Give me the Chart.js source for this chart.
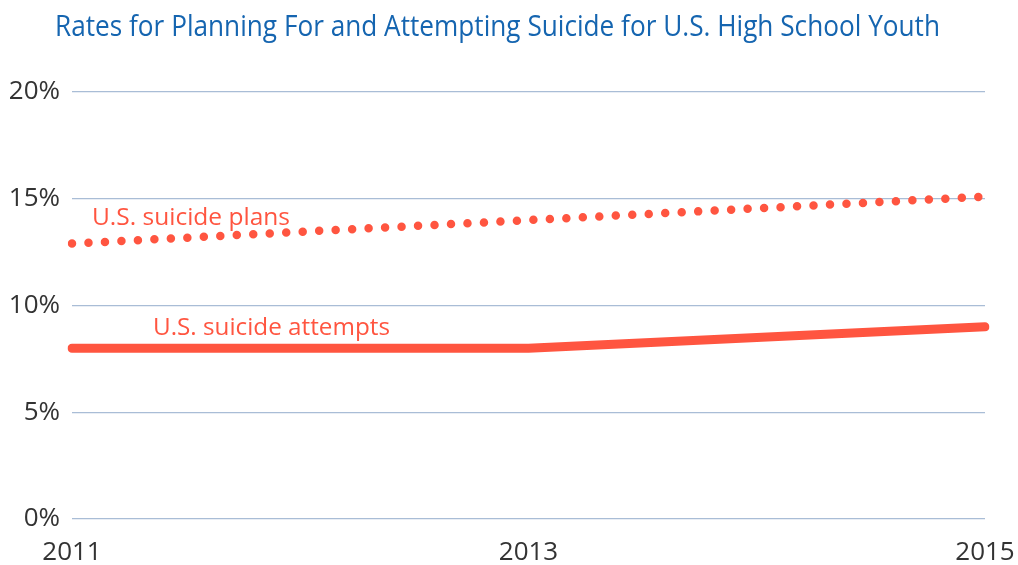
<!DOCTYPE html>
<html>
<head>
<meta charset="utf-8">
<script src="https://cdn.jsdelivr.net/npm/chart.js@4/dist/chart.umd.min.js"></script>
<style>
html,body{margin:0;padding:0;background:#fff;}
#wrap{width:1018px;height:565px;position:relative;}
</style>
</head>
<body>
<div id="wrap"><canvas id="c" width="1018" height="565"></canvas></div>
<script>
const titleText = 'Rates for Planning For and Attempting Suicide for U.S. High School Youth';
const years = ['2011', '2013', '2015'];
const planValues = [12.9, 14.0, 15.1];
const attemptValues = [8.0, 8.0, 9.0];
const seriesNames = ['U.S. suicide plans', 'U.S. suicide attempts'];
const yTicks = [0, 5, 10, 15, 20];

const RED = '#ff5540';
const BLUE = '#1565b0';

const overlay = {
  id: 'overlay',
  afterDraw(chart) {
    const ctx = chart.ctx;
    const ca = chart.chartArea;
    const y = chart.scales.y;
    ctx.save();
    ctx.fillStyle = BLUE;
    ctx.font = '29px "Open Sans"';
    ctx.textBaseline = 'alphabetic';
    ctx.textAlign = 'left';
    const w = ctx.measureText(titleText).width;
    ctx.save();
    ctx.translate(55, 36);
    ctx.scale(885 / w, 1);
    ctx.fillText(titleText, 0, 0);
    ctx.restore();
    ctx.fillStyle = RED;
    ctx.font = '24px "Open Sans"';
    const labelSpec = [
      {text: seriesNames[0], x: ca.left + 20, y: y.getPixelForValue(15) + 26, w: 198},
      {text: seriesNames[1], x: ca.left + 81, y: y.getPixelForValue(10) + 29, w: 237}
    ];
    labelSpec.forEach(l => {
      const mw = ctx.measureText(l.text).width;
      ctx.save();
      ctx.translate(l.x, l.y);
      ctx.scale(l.w / mw, 1);
      ctx.fillText(l.text, 0, 0);
      ctx.restore();
    });
    ctx.restore();
  }
};

new Chart(document.getElementById('c'), {
  type: 'line',
  data: {
    labels: years,
    datasets: [
      {
        label: seriesNames[0],
        data: planValues,
        borderColor: RED,
        borderWidth: 8.5,
        borderDash: [0, 16.5],
        borderCapStyle: 'round',
        pointRadius: 0,
        tension: 0,
        fill: false
      },
      {
        label: seriesNames[1],
        data: attemptValues,
        borderColor: RED,
        borderWidth: 9,
        borderCapStyle: 'round',
        borderJoinStyle: 'round',
        pointRadius: 0,
        tension: 0,
        fill: false
      }
    ]
  },
  options: {
    responsive: false,
    animation: false,
    devicePixelRatio: 1,
    layout: {padding: {top: 92, right: 33, left: 0, bottom: 0}},
    plugins: {
      legend: {display: false},
      title: {display: false},
      tooltip: {enabled: false}
    },
    scales: {
      x: {
        type: 'category',
        offset: false,
        grid: {display: false, drawTicks: false},
        border: {display: false},
        ticks: {
          color: '#333333',
          font: {family: '"Open Sans"', size: 26},
          padding: 18,
          maxRotation: 0,
          autoSkip: false
        },
        afterFit(s) { s.height = 46; s.paddingLeft = 0; s.paddingRight = 0; }
      },
      y: {
        min: 0,
        max: 20,
        afterBuildTicks(s) { s.ticks = yTicks.map(v => ({value: v})); },
        grid: {color: '#a9bdd6', lineWidth: 1.2, drawTicks: false},
        border: {display: false},
        ticks: {
          color: '#333333',
          font: {family: '"Open Sans"', size: 26},
          padding: 12,
          callback: v => v + '%'
        },
        afterFit(s) { s.width = 72; s.paddingTop = 0; s.paddingBottom = 0; }
      }
    }
  },
  plugins: [overlay]
});
</script>
</body>
</html>
